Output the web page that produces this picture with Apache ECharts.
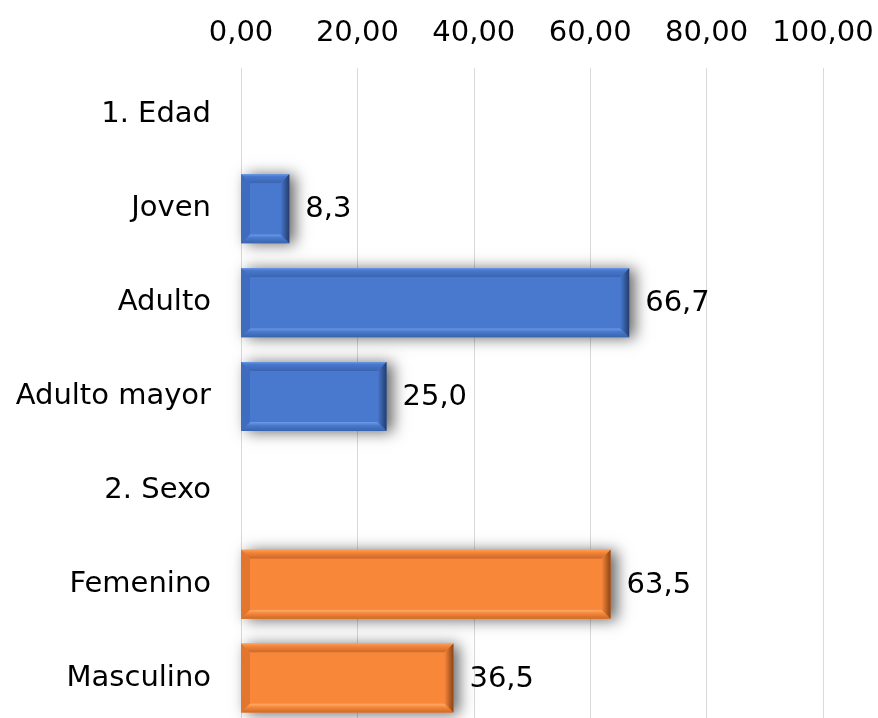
<!DOCTYPE html>
<html>
<head>
<meta charset="utf-8">
<script src="https://cdn.jsdelivr.net/npm/echarts@6/dist/echarts.min.js"></script>
<style>html,body{margin:0;padding:0;background:#fff;overflow:hidden}#c{width:878px;height:725px}</style>
</head>
<body>
<div id="c"></div>
<script>
const categories = ['1. Edad', 'Joven', 'Adulto', 'Adulto mayor', '2. Sexo', 'Femenino', 'Masculino'];
const values = [null, 8.3, 66.7, 25.0, null, 63.5, 36.5];
const groupOf = [0, 0, 0, 0, 1, 1, 1];
const xTicks = [0, 20, 40, 60, 80, 100];

const palettes = [
  { base: '#4879CF', top: '#6A97E6', topIn: '#3A64B0', left: '#3E6CBE', bottom: '#6D9AE5', bottomOut: '#3A63AB', right: '#243C6C' },
  { base: '#F8873A', top: '#FFA35E', topIn: '#C9672A', left: '#E2762F', bottom: '#FFAE6A', bottomOut: '#CC6A28', right: '#8A4415' }
];
const FONT = '"DejaVu Sans", sans-serif';
const FS = 29;
const fmt1 = v => v.toFixed(1).replace('.', ',');

const data = [];
values.forEach((v, i) => { if (v !== null) data.push([v, i, groupOf[i]]); });

function renderItem(params, api) {
  const v = api.value(0), idx = api.value(1), g = api.value(2);
  const pal = palettes[g];
  const p0 = api.coord([0, idx]);
  const p1 = api.coord([v, idx]);
  const bh = api.size([0, 1])[1] * 0.735;
  const x0 = p0[0], x1 = p1[0], yc = p0[1];
  const y0 = yc - bh / 2, y1 = yc + bh / 2;
  const b = 9;
  const w = x1 - x0;
  return {
    type: 'group',
    children: [
      { type: 'rect', shape: { x: x0, y: y0, width: w, height: bh },
        style: { fill: pal.base, shadowBlur: 14, shadowOffsetX: 6, shadowOffsetY: 1, shadowColor: 'rgba(0,0,0,0.6)' } },
      { type: 'polygon', shape: { points: [[x0, y0], [x1, y0], [x1 - b, y0 + b], [x0 + b, y0 + b]] },
        style: { fill: new echarts.graphic.LinearGradient(0, 0, 0, 1, [{ offset: 0, color: pal.top }, { offset: 0.25, color: pal.base }, { offset: 1, color: pal.topIn }]) } },
      { type: 'polygon', shape: { points: [[x0, y1], [x1, y1], [x1 - b, y1 - b], [x0 + b, y1 - b]] },
        style: { fill: new echarts.graphic.LinearGradient(0, 0, 0, 1, [{ offset: 0, color: pal.bottom }, { offset: 0.4, color: pal.base }, { offset: 1, color: pal.bottomOut }]) } },
      { type: 'polygon', shape: { points: [[x0, y0], [x0 + b, y0 + b], [x0 + b, y1 - b], [x0, y1]] },
        style: { fill: pal.left } },
      { type: 'polygon', shape: { points: [[x1, y0], [x1 - b, y0 + b], [x1 - b, y1 - b], [x1, y1]] },
        style: { fill: new echarts.graphic.LinearGradient(0, 0, 1, 0, [{ offset: 0, color: pal.base }, { offset: 1, color: pal.right }]) } },
      { type: 'rect', shape: { x: x0 + b, y: y0 + b, width: Math.max(0, w - 2 * b), height: bh - 2 * b },
        style: { fill: pal.base } },
      { type: 'text', style: { text: fmt1(v), x: x1 + 16, y: yc + 1, verticalAlign: 'middle', align: 'left',
        font: FS + 'px ' + FONT, fill: '#000' } }
    ]
  };
}

const chart = echarts.init(document.getElementById('c'), null, { renderer: 'canvas' });
chart.setOption({
  animation: false,
  backgroundColor: '#fff',
  grid: { left: 241, right: 55, top: 68, bottom: 0, containLabel: false },
  xAxis: {
    type: 'value', position: 'top', min: xTicks[0], max: xTicks[xTicks.length - 1], interval: 20,
    axisLine: { show: false }, axisTick: { show: false },
    splitLine: { show: true, lineStyle: { color: '#d9d9d9', width: 1 } },
    axisLabel: { fontSize: FS, fontFamily: FONT, color: '#000', margin: 20,
      formatter: v => v.toFixed(2).replace('.', ',') }
  },
  yAxis: {
    type: 'category', data: categories, inverse: true,
    axisLine: { show: false }, axisTick: { show: false },
    axisLabel: { fontSize: FS, fontFamily: FONT, color: '#000', margin: 30 }
  },
  series: [{
    type: 'custom', renderItem: renderItem, data: data, encode: { x: 0, y: 1 }, clip: false
  }]
});
</script>
</body>
</html>
